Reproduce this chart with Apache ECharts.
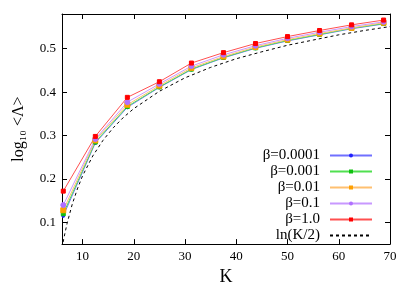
<!DOCTYPE html>
<html><head><meta charset="utf-8">
<script src="https://cdn.jsdelivr.net/npm/echarts@6/dist/echarts.min.js"></script>
<style>html,body{margin:0;padding:0;background:#fff}#c{width:415px;height:291px}</style>
</head><body><div id="c"></div>
<script>
const K = [6.25, 12.5, 18.75, 25, 31.25, 37.5, 43.75, 50, 56.25, 62.5, 68.75];
const beta00001 = [0.115, 0.283, 0.365, 0.411, 0.452, 0.479, 0.501, 0.518, 0.532, 0.546, 0.557];
const beta0001  = [0.120, 0.285, 0.367, 0.412, 0.453, 0.480, 0.502, 0.519, 0.533, 0.547, 0.558];
const beta001   = [0.128, 0.289, 0.371, 0.415, 0.456, 0.482, 0.504, 0.521, 0.535, 0.548, 0.560];
const beta01    = [0.140, 0.292, 0.377, 0.419, 0.460, 0.486, 0.507, 0.524, 0.538, 0.551, 0.562];
const beta10    = [0.172, 0.298, 0.388, 0.424, 0.467, 0.491, 0.512, 0.528, 0.542, 0.555, 0.566];
const lnK = [6.0, 6.2, 6.5, 7, 8, 9, 10, 12, 14, 16, 18, 20, 25, 30, 35, 40, 45, 50, 55, 60, 65, 70];
const lnV = [0.041, 0.054, 0.071, 0.098, 0.142, 0.177, 0.207, 0.253, 0.289, 0.318, 0.342, 0.362, 0.402, 0.433, 0.457, 0.477, 0.493, 0.508, 0.520, 0.532, 0.542, 0.551];
const xTicks = [10, 20, 30, 40, 50, 60, 70];
const yTicks = [0.1, 0.2, 0.3, 0.4, 0.5];
const names = ['β=0.0001', 'β=0.001', 'β=0.01', 'β=0.1', 'β=1.0', 'ln(K/2)'];

const lineColors = ['#7070ff', '#50e050', '#ffc070', '#c898ff', '#ff5050', '#000'];
const markColors = ['#2020ff', '#10c010', '#ffa000', '#b070ff', '#ff0000', '#000'];
const pair = (xs, ys) => xs.map((x, i) => [x, ys[i]]);
const serif = '"Liberation Serif", "DejaVu Serif", serif';
function dataSeries(i, ys, symbol, size) {
  return {
    name: names[i], type: 'line', data: pair(K, ys), symbol, symbolSize: size,
    lineStyle: {color: lineColors[i], width: 1},
    itemStyle: {color: markColors[i], borderColor: markColors[i]},
    emphasis: {disabled: true}, animation: false
  };
}
const chart = echarts.init(document.getElementById('c'));
const axisCommon = {
  axisLine: {show: true, onZero: false, lineStyle: {color: '#000', width: 1}},
  splitLine: {show: false}
};
chart.setOption({
  animation: false,
  grid: {left: 62, right: 25, top: 14, bottom: 44},
  xAxis: [
    Object.assign({type: 'value', min: 6, max: 70, position: 'bottom',
      name: 'K', nameLocation: 'middle', nameGap: 22,
      nameTextStyle: {fontFamily: serif, fontSize: 18, color: '#000'},
      axisTick: {show: true, inside: true, length: 5, customValues: xTicks, lineStyle: {color: '#000'}},
      axisLabel: {customValues: xTicks, fontFamily: serif, fontSize: 13, color: '#000', margin: 6}
    }, axisCommon),
    Object.assign({type: 'value', min: 6, max: 70, position: 'top',
      axisTick: {show: true, inside: true, length: 5, customValues: xTicks, lineStyle: {color: '#000'}},
      axisLabel: {show: false}
    }, axisCommon)
  ],
  yAxis: [
    Object.assign({type: 'value', min: 0.05, max: 0.58, position: 'left',
      name: 'log₁₀ <Λ>', nameLocation: 'middle', nameGap: 35, nameRotate: 90,
      nameTextStyle: {fontFamily: serif, fontSize: 16, color: '#000'},
      axisTick: {show: true, inside: true, length: 5, customValues: yTicks, lineStyle: {color: '#000'}},
      axisLabel: {customValues: yTicks, fontFamily: serif, fontSize: 13, color: '#000', margin: 6,
        formatter: v => v.toFixed(1)}
    }, axisCommon),
    Object.assign({type: 'value', min: 0.05, max: 0.58, position: 'right',
      axisTick: {show: true, inside: true, length: 5, customValues: yTicks, lineStyle: {color: '#000'}},
      axisLabel: {show: false}
    }, axisCommon)
  ],
  legend: {
    orient: 'vertical', right: 37, top: 143, align: 'right',
    itemWidth: 42, itemHeight: 5, itemGap: 1,
    textStyle: {fontFamily: serif, fontSize: 15, color: '#000', lineHeight: 14, padding: [0, 5, 0, 0]},
    data: names.map((n, i) => i === 5 ? {name: n, itemStyle: {opacity: 0}} : n)
  },
  series: [
    dataSeries(0, beta00001, 'circle', 3),
    dataSeries(1, beta0001, 'rect', 4),
    dataSeries(2, beta001, 'rect', 5),
    dataSeries(3, beta01, 'circle', 5),
    dataSeries(4, beta10, 'rect', 4),
    {name: names[5], type: 'line', data: pair(lnK, lnV), symbol: 'none',
     lineStyle: {color: '#000', width: 1, type: [3, 3]}, itemStyle: {color: '#000'},
     emphasis: {disabled: true}, clip: true}
  ]
});
</script></body></html>
